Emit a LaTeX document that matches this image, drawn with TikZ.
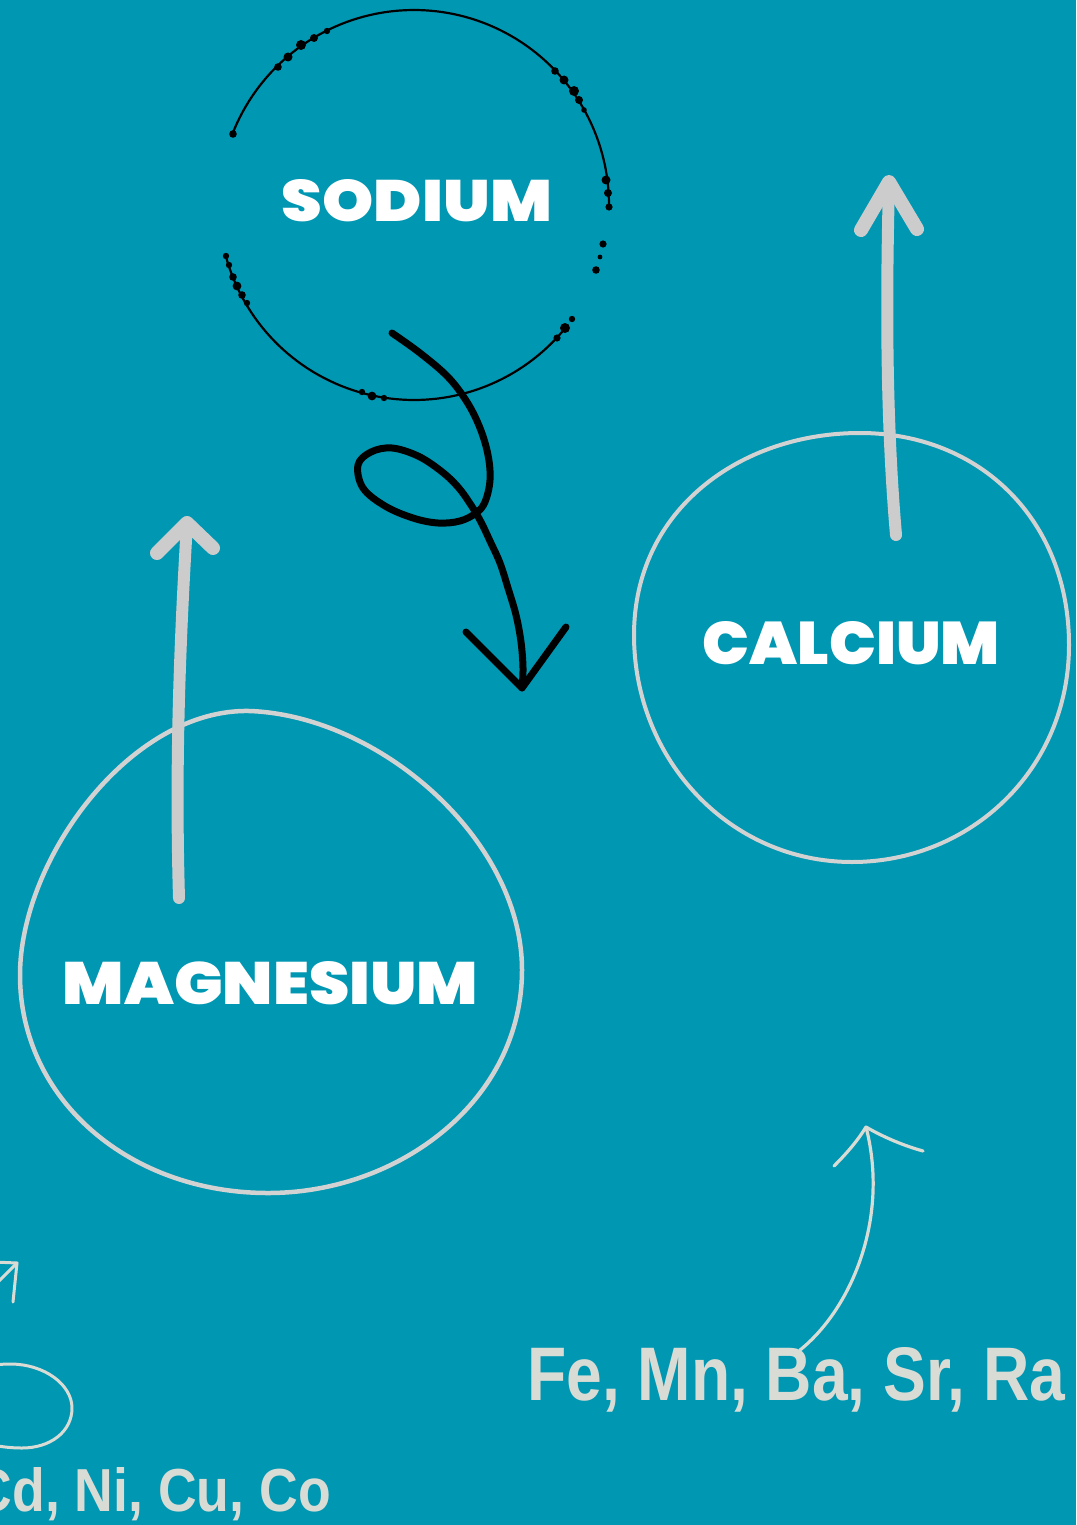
\documentclass[tikz,border=0pt]{standalone}
\usepackage{fontspec}
\setmainfont{Liberation Sans}
\IfFontExistsTF{Poppins Black}
  {\newfontfamily\headfontX{Poppins Black}\newcommand\headstyle{\headfontX}}
  {\newfontfamily\headfontX{Poppins}[BoldFeatures={FakeBold=1.3}]\newcommand\headstyle{\headfontX\bfseries}}
\newfontfamily\condfont{Liberation Sans}
\definecolor{bg}{HTML}{0097B2}
\definecolor{arrowgray}{HTML}{CCCCCC}
\definecolor{ringgray}{HTML}{D2D2D2}
\definecolor{pale}{HTML}{D9DCD5}
\tikzset{
  headtext/.style={inner sep=0pt, text=white, font=\headstyle},
  metaltext/.style={inner sep=0pt, text=pale, font=\condfont\bfseries},
  blackring/.style={draw=black, line width=2.2pt},
  blob/.style={draw=ringgray, line width=4.5pt},
  bigarrow/.style={draw=arrowgray, line width=13pt, line cap=round, line join=round},
  squiggle/.style={draw=black, line width=7pt, line cap=round, line join=round},
  thinarrow/.style={draw=pale, line width=3.2pt, line cap=round, line join=round},
  dotb/.style={fill=black}
}
\begin{document}
\begin{tikzpicture}[x=1pt,y=-1pt]
\useasboundingbox (0,0) rectangle (1076,1525);
\fill[bg] (0,0) rectangle (1076,1525);

% ---- Sodium dotted ring ----
\draw[blackring] plot[domain=-158.6:0.6, samples=90] ({414+195*cos(\x)},{205+195*sin(\x)});
\draw[blackring] plot[domain=39.2:164.8, samples=70] ({414+195*cos(\x)},{205+195*sin(\x)});
\foreach \px/\py/\r in {
  233/134/3.8, 278/67/3.8, 288/57/4.5, 301/45/5, 314/38/4, 327/31/3.2,
  555/71/3.8, 564/80/4.5, 574/91/5, 579/100/4, 584/110/2.8,
  606/180/4.5, 608/193/4, 609/207/3.6,
  603/244/3.6, 600/257/2.4, 596/270/3.8,
  572/319/3.2, 565/328/5, 557/338/3.6,
  362/392/3.2, 372/396/4.4, 384/398/3.2,
  226/256/3.2, 229/265/3.2, 233/277/3.8, 237/286/4.4, 242/295/3.8, 247/303/3.2}
  \fill[dotb] (\px,\py) circle[radius=\r];

\node[headtext] (sodium) at (417,201) {\resizebox{270pt}{42pt}{SODIUM}};

% ---- black squiggle arrow ----
\coordinate (sqs) at (392,333);
\coordinate (sqt) at (522,688);
\draw[squiggle] plot[smooth, tension=0.6] coordinates {
 (sqs) (420,353) (448,377) (467,402) (480,428) (488,455) (490,480) (485,502)
 (476,513) (460,521) (438,523) (413,518) (385,506) (363,488) (358,465) (371,452)
 (392,448) (418,456) (441,471) (458,487) (471,505) (481,522) (490,541) (500,563)
 (508,588) (516,615) (521,642) (523,668) (sqt)};
\coordinate (sqa) at (466,632);
\coordinate (sqb) at (566,627);
\draw[squiggle] (sqa) -- (sqt) -- (sqb);

% ---- Calcium ----
\draw[blob, line width=4pt] (860,433) .. controls (980,433) and (1069,520) .. (1069,645)
  .. controls (1069,770) and (970,862) .. (852,862)
  .. controls (730,862) and (634,760) .. (634,635)
  .. controls (634,510) and (740,433) .. cycle;
\node[headtext] (calcium) at (851.5,643.5) {\resizebox{297pt}{43pt}{CALCIUM}};
\coordinate (caS) at (896,535);
\coordinate (caT) at (889,182);
\coordinate (caL) at (861,230);
\coordinate (caR) at (917,229);
\draw[bigarrow, line width=12pt] (caS) .. controls (886,420) and (886,300) .. (caT);
\draw[bigarrow, line width=14pt] (caL) -- (caT) -- (caR);

% ---- Magnesium ----
\draw[blob] (250,711) .. controls (380,716) and (522,840) .. (522,970)
  .. controls (522,1100) and (400,1193) .. (268,1193)
  .. controls (130,1193) and (20,1100) .. (20,975)
  .. controls (20,860) and (130,708) .. cycle;
\node[headtext] (magnesium) at (270.5,983.5) {\resizebox{415pt}{43pt}{MAGNESIUM}};
\coordinate (mgS) at (179,898);
\coordinate (mgT) at (187,523);
\coordinate (mgL) at (157,553);
\coordinate (mgR) at (213,548);
\draw[bigarrow, line width=12pt] (mgS) .. controls (175,760) and (180,640) .. (mgT);
\draw[bigarrow, line width=14pt] (mgL) -- (mgT) -- (mgR);

% ---- bottom right ----
\node[metaltext, anchor=base west] (femn) at (527,1400) {\resizebox{538pt}{53pt}{Fe, Mn, Ba, Sr, Ra}};
\coordinate (frS) at (800,1350);
\coordinate (frT) at (866,1127);
\coordinate (frL) at (834,1166);
\coordinate (frR) at (923,1151);
\draw[thinarrow] (frS) .. controls (850,1310) and (890,1220) .. (frT);
\draw[thinarrow] (frL) .. controls (848,1152) and (858,1140) .. (frT) .. controls (885,1138) and (905,1146) .. (frR);

% ---- bottom left ----
\draw[thinarrow, line width=3pt] (72,1408) .. controls (72,1432) and (50,1448) .. (22,1448)
  .. controls (-20,1448) and (-55,1430) .. (-55,1405)
  .. controls (-55,1380) and (-25,1364) .. (10,1364)
  .. controls (45,1364) and (72,1385) .. cycle;
\coordinate (blT) at (17,1263);
\coordinate (blS) at (-8,1288);
\coordinate (blA) at (-6,1262);
\coordinate (blB) at (13,1302);
\draw[thinarrow, line width=3pt] (blS) -- (blT);
\draw[thinarrow, line width=3pt] (blA) -- (blT) -- (blB);
\node[metaltext, anchor=base east] (cdni) at (331,1511) {\resizebox{357pt}{44pt}{Cd, Ni, Cu, Co}};
\end{tikzpicture}
\end{document}
